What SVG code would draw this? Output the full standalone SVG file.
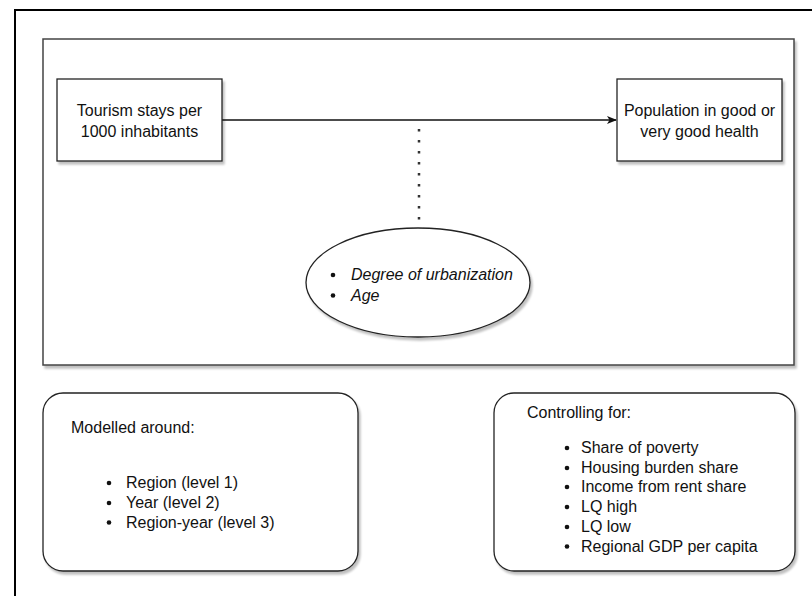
<svg xmlns="http://www.w3.org/2000/svg" width="812" height="596" viewBox="0 0 812 596">
<style>
  text { font-family: "Liberation Sans", Arial, sans-serif; font-size: 16px; fill: #111; }
  .mid { text-anchor: middle; }
  .it { font-style: italic; }
  .node { fill: #fff; stroke: #222; stroke-width: 1.3; filter: url(#sh); }
  .frame { fill: #fff; stroke: #444; stroke-width: 1.5; filter: url(#sh); }
  .bul { fill: #111; }
</style>
<defs>
  <filter id="sh" x="-5%" y="-5%" width="115%" height="120%">
    <feGaussianBlur in="SourceAlpha" stdDeviation="1.2"/>
    <feOffset dx="2" dy="3" result="b"/>
    <feComponentTransfer><feFuncA type="linear" slope="0.25"/></feComponentTransfer>
    <feMerge><feMergeNode/><feMergeNode in="SourceGraphic"/></feMerge>
  </filter>
  <marker id="arr" viewBox="0 0 10 10" refX="9" refY="5" markerWidth="10" markerHeight="10" markerUnits="userSpaceOnUse" orient="auto">
    <path d="M0,1 L10,5 L0,9 L2.5,5 Z" fill="#111"/>
  </marker>
</defs>
<rect x="0" y="0" width="812" height="596" fill="#fff"/>
<rect id="outer" x="15" y="10" width="820" height="620" fill="none" stroke="#000" stroke-width="2"/>
<g id="frame">
  <rect class="frame" x="43" y="39" width="751" height="326"/>
</g>
<g id="connectors">
  <line x1="222" y1="120" x2="616" y2="120" stroke="#111" stroke-width="1.3" marker-end="url(#arr)"/>
  <line x1="419" y1="129" x2="419" y2="229" stroke="#333" stroke-width="2.5" stroke-dasharray="2.5 8.5"/>
</g>
<g id="tourism">
  <rect class="node" x="57" y="79" width="165" height="82"/>
  <text class="mid" x="139.5" y="116">Tourism stays per</text>
  <text class="mid" x="139.5" y="137">1000 inhabitants</text>
</g>
<g id="health">
  <rect class="node" x="617" y="79" width="165" height="82"/>
  <text class="mid" x="699.5" y="116">Population in good or</text>
  <text class="mid" x="699.5" y="137">very good health</text>
</g>
<g id="moderators">
  <ellipse class="node" cx="418" cy="282.5" rx="112" ry="54.5"/>
  <circle class="bul" cx="333" cy="275" r="2.3"/>
  <text class="it" x="351" y="280">Degree of urbanization</text>
  <circle class="bul" cx="333" cy="295.5" r="2.3"/>
  <text class="it" x="351" y="300.5">Age</text>
</g>
<g id="modelled">
  <rect class="node" x="43" y="393" width="315" height="178" rx="20" ry="20"/>
  <text x="71" y="433">Modelled around:</text>
  <circle class="bul" cx="109" cy="483" r="2.3"/>
  <text x="126" y="488">Region (level 1)</text>
  <circle class="bul" cx="109" cy="503" r="2.3"/>
  <text x="126" y="508">Year (level 2)</text>
  <circle class="bul" cx="109" cy="522.5" r="2.3"/>
  <text x="126" y="527.5">Region-year (level 3)</text>
</g>
<g id="controls">
  <rect class="node" x="494" y="393" width="301" height="178" rx="20" ry="20"/>
  <text x="527" y="418">Controlling for:</text>
  <circle class="bul" cx="567" cy="448" r="2.3"/>
  <text x="581" y="453">Share of poverty</text>
  <circle class="bul" cx="567" cy="468" r="2.3"/>
  <text x="581" y="473">Housing burden share</text>
  <circle class="bul" cx="567" cy="487" r="2.3"/>
  <text x="581" y="492">Income from rent share</text>
  <circle class="bul" cx="567" cy="507" r="2.3"/>
  <text x="581" y="512">LQ high</text>
  <circle class="bul" cx="567" cy="527" r="2.3"/>
  <text x="581" y="532">LQ low</text>
  <circle class="bul" cx="567" cy="546.5" r="2.3"/>
  <text x="581" y="551.5">Regional GDP per capita</text>
</g>
</svg>
